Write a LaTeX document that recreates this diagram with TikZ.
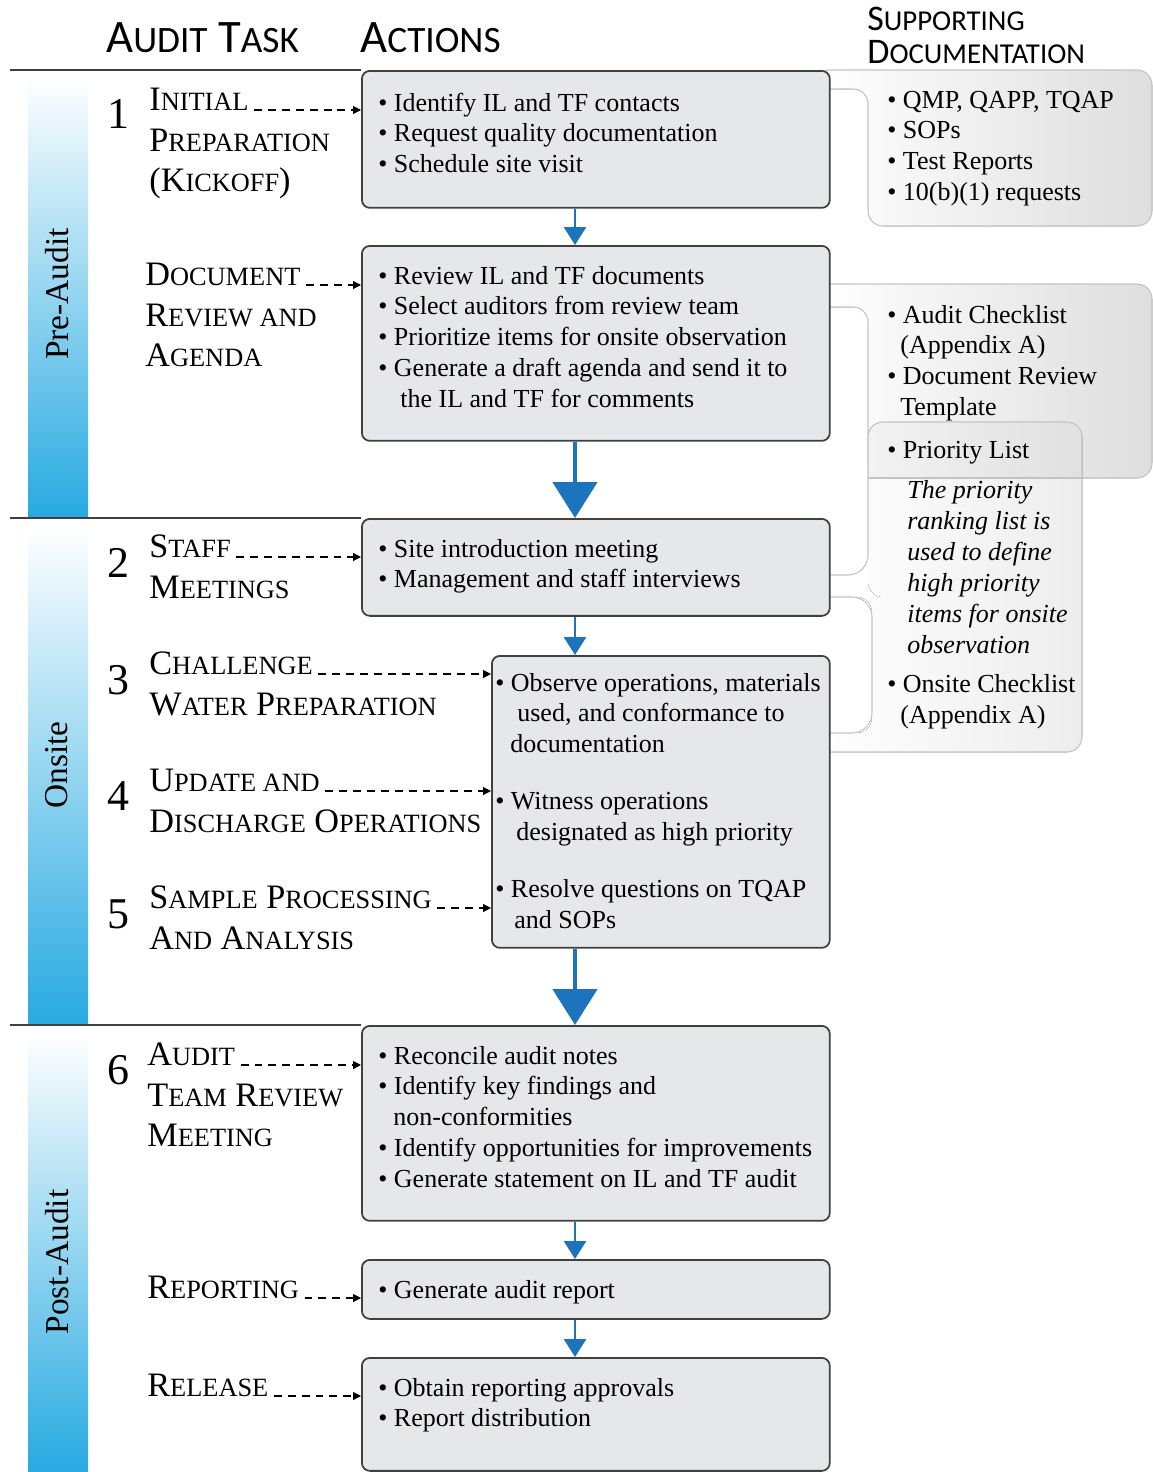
\documentclass[tikz,border=0pt]{standalone}
\usepackage{fontspec}
\setmainfont{Liberation Serif}
\newfontfamily\hdfont{Carlito}
\usetikzlibrary{arrows.meta}

\definecolor{boxfill}{RGB}{230,231,232}
\definecolor{boxline}{RGB}{64,64,64}
\definecolor{flowblue}{RGB}{28,117,188}
\definecolor{barblue}{RGB}{39,170,225}
\definecolor{docedge}{RGB}{195,195,195}
\definecolor{docgrey}{RGB}{222,222,222}

\newcommand\bodyfont{\fontsize{14.8pt}{17.6pt}\selectfont}
\newcommand\lblfont{\fontsize{19.5pt}{23.3pt}\selectfont}
\newcommand\tasksc[1]{{\fontsize{15pt}{23.3pt}\selectfont #1}}
\newcommand\hdbig{\hdfont\fontsize{26.5pt}{30pt}\selectfont}
\newcommand\hdsc[1]{{\fontsize{21.2pt}{30pt}\selectfont #1}}
\newcommand\hdmid{\hdfont\fontsize{20.5pt}{24pt}\selectfont}
\newcommand\supsc[1]{{\fontsize{16.4pt}{24pt}\selectfont #1}}

\tikzset{
  actbox/.style={draw=boxline, fill=boxfill, line width=1pt, rounded corners=0.16cm,
    anchor=north west, inner sep=0pt, minimum width=9.36cm},
  acttext/.style={anchor=base west, inner sep=0pt, font=\bodyfont},
  tasklbl/.style={anchor=base west, inner sep=0pt, font=\lblfont},
  tasknum/.style={anchor=base west, inner sep=0pt, font=\fontsize{25pt}{25pt}\selectfont},
  hdlbl/.style={anchor=base west, inner sep=0pt},
  dasharr/.style={dash pattern=on 4.5pt off 3.4pt, line width=0.6pt,
    -{Triangle[length=4.5pt,width=4.5pt]}, shorten <=3pt},
  thinflow/.style={draw=flowblue, line width=1.6pt, -{Triangle[length=0.36cm,width=0.44cm]}},
  thickflow/.style={draw=flowblue, line width=2.8pt, -{Triangle[length=0.72cm,width=0.88cm]}},
  phasebar/.style={top color=white, bottom color=barblue},
  phaselbl/.style={rotate=90, font=\fontsize{19pt}{19pt}\selectfont},
  sepline/.style={draw=boxline, line width=1pt},
  docbox/.style={left color=white, right color=docgrey, draw=docedge, line width=0.6pt, rounded corners=0.3cm},
  docpale/.style={left color=white, right color=gray!14, rounded corners=0.3cm},
  docover/.style={left color=gray!10, right color=gray!24},
  bracketline/.style={draw=docedge, line width=0.6pt, rounded corners=0.4cm}
}

\begin{document}
\begin{tikzpicture}[x=0.02cm, y=-0.02cm]
  \useasboundingbox (0,0) rectangle (1153,1472);

  % phases
  \shade[phasebar] (28,75) rectangle (88,518);
  \shade[phasebar] (28,525) rectangle (88,1025);
  \shade[phasebar] (28,1032) rectangle (88,1472);
  \node[phaselbl] (pre) at (57,294) {Pre-Audit};
  \node[phaselbl] (ons) at (57,765) {Onsite};
  \node[phaselbl] (post) at (57,1262) {Post-Audit};

  % headers
  \node[hdlbl, font=\hdbig] (htask) at (106,52) {A\hdsc{UDIT} T\hdsc{ASK}};
  \node[hdlbl, font=\hdbig] (hact) at (360,52) {A\hdsc{CTIONS}};
  \node[hdlbl, font=\hdmid] (hsup) at (867,30) {S\supsc{UPPORTING}};
  \node[hdlbl, font=\hdmid] (hdoc) at (867,63) {D\supsc{OCUMENTATION}};

  % supporting documentation
  \filldraw[docbox] (815,70) -- (1152,70) -- (1152,226) -- (868,226) -- (868,89) -- (815,89) -- cycle;
  \filldraw[docbox] (815,284) -- (1152,284) -- (1152,478) -- (868,478) -- (868,307) -- (815,307) -- cycle;
  \fill[docpale] (868,422) -- (1082,422) -- (1082,752) -- (815,752) -- (815,733) -- (872,733)
    -- (872,597) -- (868,597) -- cycle;
  \begin{scope}
    \clip (868,422) rectangle (1082,478);
    \fill[docover, rounded corners=0.3cm] (868,422) rectangle (1082,752);
  \end{scope}
  \draw[draw=docedge, line width=0.6pt] (868,478) -- (1082,478);
  \draw[bracketline] (868,470) -- (868,575) -- (815,575);
  \draw[bracketline, rounded corners=0.3cm] (868,470) -- (868,422) -- (1082,422) -- (1082,752) -- (815,752);
  \draw[bracketline] (815,597) -- (872,597) -- (872,733) -- (815,733);

  % action boxes
  \node[actbox, minimum height=2.74cm] (b1) at (361,70) {};
  \node[actbox, minimum height=3.90cm] (b2) at (361,245) {};
  \node[actbox, minimum height=1.94cm] (b3) at (361,518) {};
  \node[actbox, minimum height=5.84cm, minimum width=6.76cm] (b4) at (491,655) {};
  \node[actbox, minimum height=3.90cm] (b5) at (361,1025) {};
  \node[actbox, minimum height=1.18cm] (b6) at (361,1259) {};
  \node[actbox, minimum height=2.26cm] (b7) at (361,1357) {};

  \draw[sepline] (10,70) -- (b1.north west);
  \draw[sepline] (10,518) -- (b3.north west);
  \draw[sepline] (10,1025) -- (b5.north west);

  \coordinate (ax) at (575,0);
  \draw[thinflow] (b1.south -| ax) -- (b2.north -| ax);
  \draw[thickflow] (b2.south -| ax) -- (b3.north -| ax);
  \draw[thinflow] (b3.south -| ax) -- (b4.north -| ax);
  \draw[thickflow] (b4.south -| ax) -- (b5.north -| ax);
  \draw[thinflow] (b5.south -| ax) -- (b6.north -| ax);
  \draw[thinflow] (b6.south -| ax) -- (b7.north -| ax);

  % action texts
  \node[acttext] (t1) at (378,111) {\parbox[t]{9cm}{\textbullet\ Identify IL and TF contacts\\
    \textbullet\ Request quality documentation\\ \textbullet\ Schedule site visit}};
  \node[acttext] (t2) at (378,284) {\parbox[t]{9cm}{\textbullet\ Review IL and TF documents\\
    \textbullet\ Select auditors from review team\\ \textbullet\ Prioritize items for onsite observation\\
    \textbullet\ Generate a draft agenda and send it to\\ \hspace*{0.44cm}the IL and TF for comments}};
  \node[acttext] (t3) at (378,557) {\parbox[t]{9cm}{\textbullet\ Site introduction meeting\\
    \textbullet\ Management and staff interviews}};
  \node[acttext] (t4) at (495,691) {\parbox[t]{6.6cm}{\textbullet\ Observe operations, materials\\
    \hspace*{0.44cm}used, and conformance to\\ \hspace*{0.3cm}documentation\\[0.52cm]
    \textbullet\ Witness operations\\ \hspace*{0.42cm}designated as high priority\\[0.52cm]
    \textbullet\ Resolve questions on TQAP\\ \hspace*{0.38cm}and SOPs}};
  \node[acttext] (t5) at (378,1064) {\parbox[t]{9cm}{\textbullet\ Reconcile audit notes\\
    \textbullet\ Identify key findings and\\ \hspace*{0.3cm}non-conformities\\
    \textbullet\ Identify opportunities for improvements\\ \textbullet\ Generate statement on IL and TF audit}};
  \node[acttext] (t6) at (378,1298) {\textbullet\ Generate audit report};
  \node[acttext] (t7) at (378,1396) {\parbox[t]{9cm}{\textbullet\ Obtain reporting approvals\\
    \textbullet\ Report distribution}};

  % supporting texts
  \node[acttext] (s1) at (887,108) {\parbox[t]{5.4cm}{\textbullet\ QMP, QAPP, TQAP\\ \textbullet\ SOPs\\
    \textbullet\ Test Reports\\ \textbullet\ 10(b)(1) requests}};
  \node[acttext] (s2) at (887,323) {\parbox[t]{5.4cm}{\textbullet\ Audit Checklist\\ \hspace*{0.26cm}(Appendix A)\\
    \textbullet\ Document Review\\ \hspace*{0.26cm}Template}};
  \node[acttext] (s3) at (887,458) {\parbox[t]{4.2cm}{\textbullet\ Priority List\\[0.2cm]
    \hspace*{0.4cm}\textit{The priority}\\ \hspace*{0.4cm}\textit{ranking list is}\\
    \hspace*{0.4cm}\textit{used to define}\\ \hspace*{0.4cm}\textit{high priority}\\
    \hspace*{0.4cm}\textit{items for onsite}\\ \hspace*{0.4cm}\textit{observation}\\[0.16cm]
    \textbullet\ Onsite Checklist\\ \hspace*{0.26cm}(Appendix A)}};

  % audit tasks
  \node[tasknum] (n1) at (107,128) {1};
  \node[tasklbl] (l1a) at (149,110) {I\tasksc{NITIAL}};
  \node[tasklbl] (l1b) at (149,151) {\parbox[t]{5cm}{P\tasksc{REPARATION}\\(K\tasksc{ICKOFF})}};
  \node[tasklbl] (l2a) at (145,285) {D\tasksc{OCUMENT}};
  \node[tasklbl] (l2b) at (145,326) {\parbox[t]{5cm}{R\tasksc{EVIEW AND}\\A\tasksc{GENDA}}};
  \node[tasknum] (n2) at (107,577) {2};
  \node[tasklbl] (l3a) at (149,557) {S\tasksc{TAFF}};
  \node[tasklbl] (l3b) at (149,598) {M\tasksc{EETINGS}};
  \node[tasknum] (n3) at (107,694) {3};
  \node[tasklbl] (l4a) at (149,674) {C\tasksc{HALLENGE}};
  \node[tasklbl] (l4b) at (149,715) {W\tasksc{ATER} P\tasksc{REPARATION}};
  \node[tasknum] (n4) at (107,810) {4};
  \node[tasklbl] (l5a) at (149,791) {U\tasksc{PDATE AND}};
  \node[tasklbl] (l5b) at (149,832) {D\tasksc{ISCHARGE} O\tasksc{PERATIONS}};
  \node[tasknum] (n5) at (107,928) {5};
  \node[tasklbl] (l6a) at (149,908) {S\tasksc{AMPLE} P\tasksc{ROCESSING}};
  \node[tasklbl] (l6b) at (149,949) {A\tasksc{ND} A\tasksc{NALYSIS}};
  \node[tasknum] (n6) at (107,1084) {6};
  \node[tasklbl] (l7a) at (147,1065) {A\tasksc{UDIT}};
  \node[tasklbl] (l7b) at (147,1106) {\parbox[t]{5cm}{T\tasksc{EAM} R\tasksc{EVIEW}\\M\tasksc{EETING}}};
  \node[tasklbl] (l8) at (147,1298) {R\tasksc{EPORTING}};
  \node[tasklbl] (l9) at (147,1396) {R\tasksc{ELEASE}};

  \foreach \l/\b in {l1a/b1, l2a/b2, l3a/b3, l4a/b4, l5a/b4, l6a/b4, l7a/b5, l8/b6, l9/b7}
    \draw[dasharr] (\l.base east) -- (\l.base east -| \b.west);
\end{tikzpicture}
\end{document}
